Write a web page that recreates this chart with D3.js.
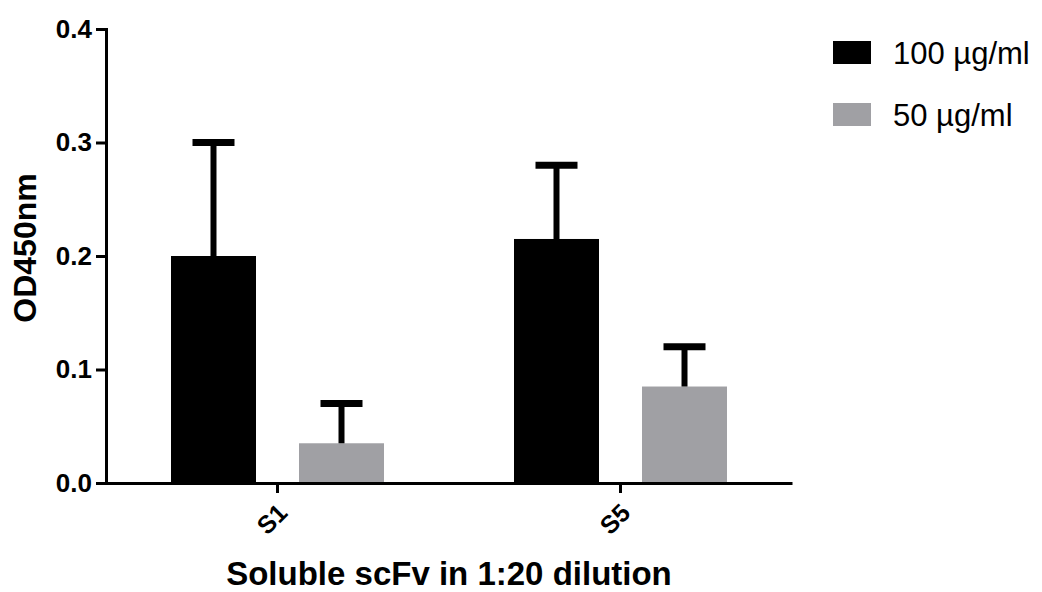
<!DOCTYPE html>
<html>
<head>
<meta charset="utf-8">
<script src="https://cdn.jsdelivr.net/npm/d3@7"></script>
<style>
  body { margin: 0; background: #fff; }
  text { font-family: "Liberation Sans", Arial, sans-serif; }
</style>
</head>
<body>
<svg id="chart" width="1042" height="592"></svg>
<script>
// data
const samples = ["S1", "S5"];
const doses = ["100 µg/ml", "50 µg/ml"];
const means = [[0.2, 0.035], [0.215, 0.085]];   // per sample, per dose
const errors = [[0.1, 0.035], [0.065, 0.035]];  // upper SD
const yTicks = [0, 0.1, 0.2, 0.3, 0.4];
const colors = ["#000000", "#a0a0a4"];

const svg = d3.select("#chart");

const x = d3.scaleBand().domain(samples).range([106, 792]).padding(0);
const sub = d3.scaleBand().domain(doses).range([-106.5, 106.5]).paddingInner(0.336);
const y = d3.scaleLinear().domain([0, 0.4]).range([483, 29]);
const color = d3.scaleOrdinal().domain(doses).range(colors);

const rows = [];
samples.forEach((s, i) => doses.forEach((d, j) => {
  rows.push({ sample: s, dose: d, mean: means[i][j], err: errors[i][j] });
}));

// bars
svg.append("g").selectAll("rect")
  .data(rows)
  .join("rect")
  .attr("x", d => x(d.sample) + x.bandwidth() / 2 + sub(d.dose))
  .attr("y", d => y(d.mean))
  .attr("width", sub.bandwidth())
  .attr("height", d => y(0) - y(d.mean))
  .attr("fill", d => color(d.dose));

// error bars (upper only)
const eb = svg.append("g").selectAll("g")
  .data(rows)
  .join("g")
  .attr("transform", d => `translate(${x(d.sample) + x.bandwidth() / 2 + sub(d.dose) + sub.bandwidth() / 2},0)`);

eb.append("line")
  .attr("y1", d => y(d.mean))
  .attr("y2", d => y(d.mean + d.err))
  .attr("stroke", "#000")
  .attr("stroke-width", 6);

eb.append("line")
  .attr("x1", -21).attr("x2", 21)
  .attr("y1", d => y(d.mean + d.err))
  .attr("y2", d => y(d.mean + d.err))
  .attr("stroke", "#000")
  .attr("stroke-width", 7);

// axes
const yAxis = svg.append("g")
  .attr("transform", "translate(106,0)")
  .call(d3.axisLeft(y).tickValues(yTicks).tickFormat(d3.format(".1f")).tickSize(10).tickPadding(4));

const xAxis = svg.append("g")
  .attr("transform", "translate(0,483)")
  .call(d3.axisBottom(x).tickSize(10).tickSizeOuter(0));

[yAxis, xAxis].forEach(g => {
  g.select(".domain").attr("stroke", "#000").attr("stroke-width", 3);
  g.selectAll(".tick line").attr("stroke", "#000").attr("stroke-width", 3);
});

yAxis.selectAll(".tick text")
  .attr("font-family", "Liberation Sans, Arial, sans-serif")
  .attr("font-size", 26)
  .attr("font-weight", "bold")
  .attr("fill", "#000");

xAxis.selectAll(".tick text")
  .attr("font-family", "Liberation Sans, Arial, sans-serif")
  .attr("font-size", 25)
  .attr("font-weight", "bold")
  .attr("fill", "#000")
  .attr("text-anchor", "end")
  .attr("dy", "0.35em")
  .attr("transform", "translate(-4,16) rotate(-45)");

// axis titles
svg.append("text")
  .attr("transform", "translate(36,248) rotate(-90)")
  .attr("text-anchor", "middle")
  .attr("font-size", 32)
  .attr("font-weight", "bold")
  .text("OD450nm");

svg.append("text")
  .attr("x", 449)
  .attr("y", 585)
  .attr("text-anchor", "middle")
  .attr("font-size", 33)
  .attr("font-weight", "bold")
  .text("Soluble scFv in 1:20 dilution");

// legend
const legend = svg.append("g").selectAll("g")
  .data(doses)
  .join("g")
  .attr("transform", (d, i) => `translate(833,${41 + i * 62})`);

legend.append("rect")
  .attr("width", 38).attr("height", 23)
  .attr("fill", d => color(d));

legend.append("text")
  .attr("x", 60)
  .attr("y", 23)
  .attr("font-size", 31)
  .text(d => d);
</script>
</body>
</html>
